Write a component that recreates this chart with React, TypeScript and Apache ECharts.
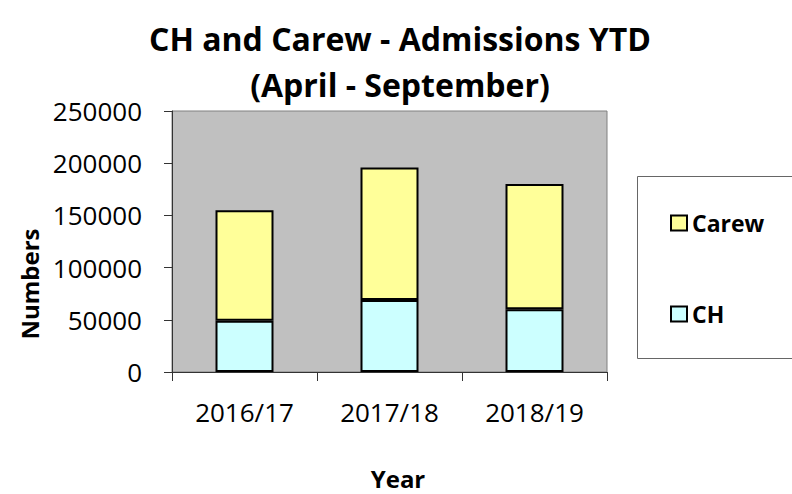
import React, { useEffect, useRef } from "react";
import * as echarts from "echarts";

const categories = ["2016/17", "2017/18", "2018/19"];
const chValues = [49000, 69000, 60000];
const carewValues = [106000, 127000, 120000];
const legendNames = ["Carew", "CH"];
const titleLines = ["CH and Carew - Admissions YTD", "(April - September)"];

const FONT = "'Open Sans', sans-serif";

export default function App() {
  const ref = useRef<HTMLDivElement>(null);
  useEffect(() => {
    if (!ref.current) return;
    const chart = echarts.init(ref.current, null, { renderer: "svg" });
    chart.setOption({
      animation: false,
      textStyle: { fontFamily: FONT },
      grid: {
        left: 172,
        right: 185,
        top: 111,
        bottom: 122,
        show: true,
        backgroundColor: "#c0c0c0",
        borderColor: "#808080",
        borderWidth: 1,
      },
      legend: {
        data: legendNames,
        orient: "vertical",
        left: 670,
        top: 211,
        padding: 0,
        itemGap: 67,
        itemWidth: 16,
        itemHeight: 15,
        icon: "rect",
        textStyle: {
          fontFamily: FONT,
          fontSize: 23,
          fontWeight: "bold",
          color: "#000",
          lineHeight: 24,
        },
      },
      graphic: [
        {
          type: "rect",
          z: 0,
          shape: { x: 637.5, y: 176.5, width: 200, height: 182 },
          style: { fill: "#fff", stroke: "#666", lineWidth: 1 },
        },
        {
          type: "text",
          x: 400,
          y: 38,
          style: {
            text: titleLines[0],
            fontFamily: FONT,
            fontSize: 32,
            fontWeight: "bold",
            fill: "#000",
            align: "center",
            verticalAlign: "middle",
          },
        },
        {
          type: "text",
          x: 400,
          y: 84,
          style: {
            text: titleLines[1],
            fontFamily: FONT,
            fontSize: 32,
            fontWeight: "bold",
            fill: "#000",
            align: "center",
            verticalAlign: "middle",
          },
        },
        {
          type: "text",
          x: 398,
          y: 478,
          style: {
            text: "Year",
            fontFamily: FONT,
            fontSize: 24,
            fontWeight: "bold",
            fill: "#000",
            align: "center",
            verticalAlign: "middle",
          },
        },
        {
          type: "text",
          x: 29,
          y: 284,
          rotation: Math.PI / 2,
          style: {
            text: "Numbers",
            fontFamily: FONT,
            fontSize: 24,
            fontWeight: "bold",
            fill: "#000",
            align: "center",
            verticalAlign: "middle",
          },
        },
      ],
      xAxis: {
        type: "category",
        data: categories,
        axisLine: { show: true, lineStyle: { color: "#333", width: 1 } },
        axisTick: { show: true, length: 9, alignWithLabel: false, lineStyle: { color: "#333" } },
        axisLabel: { fontFamily: FONT, fontSize: 26, color: "#000", margin: 27 },
        splitLine: { show: false },
      },
      yAxis: {
        type: "value",
        min: 0,
        max: 250000,
        interval: 50000,
        axisLine: { show: true, lineStyle: { color: "#333", width: 1 } },
        axisTick: { show: true, length: 8, lineStyle: { color: "#333" } },
        axisLabel: {
          fontFamily: FONT,
          fontSize: 26,
          color: "#000",
          margin: 30,
          formatter: (v: number) => String(v),
        },
        splitLine: { show: false },
      },
      series: [
        {
          name: "CH",
          type: "bar",
          stack: "total",
          data: chValues,
          barWidth: 58,
          itemStyle: { color: "#ccffff", borderColor: "#000", borderWidth: 2 },
        },
        {
          name: "Carew",
          type: "bar",
          stack: "total",
          data: carewValues,
          barWidth: 58,
          itemStyle: { color: "#ffff99", borderColor: "#000", borderWidth: 2 },
        },
      ],
    });
    return () => chart.dispose();
  }, []);
  return <div ref={ref} style={{ width: 792, height: 494, position: "absolute", left: 0, top: 0 }} />;
}
